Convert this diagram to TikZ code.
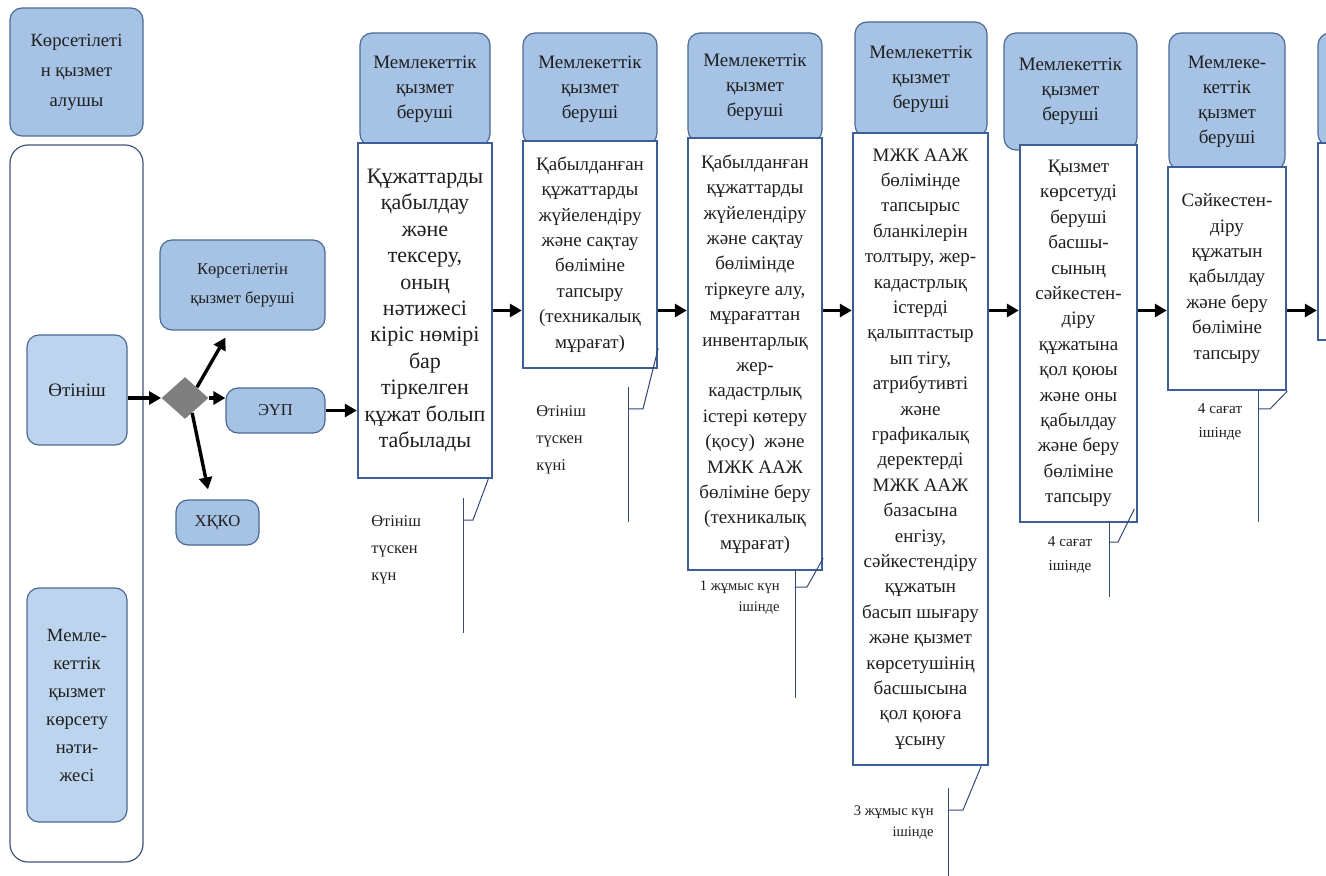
\documentclass[tikz,border=0pt]{standalone}
\usepackage{fontspec}
\setmainfont{Liberation Serif}
\definecolor{headblue}{HTML}{A6C3E5}
\definecolor{paleblue}{HTML}{BCD4EE}
\definecolor{edgeblue}{HTML}{4C6A93}
\definecolor{procblue}{HTML}{3D5E96}
\definecolor{gategray}{HTML}{7F7F7F}
\definecolor{inkgray}{HTML}{1F1F1F}
\usetikzlibrary{arrows.meta,positioning,shapes.geometric,calc}
\tikzset{
    headbox/.style={
        draw=edgeblue,
        fill=headblue,
        rounded corners=6pt,
        line width=0.6pt,
        inner sep=0pt,
        align=center,
        text=inkgray,
        font=\fontsize{9.5}{12.5}\selectfont
    },
    palebox/.style={
        headbox,
        fill=paleblue
    },
    lanebox/.style={
        draw=edgeblue!80!black,
        fill=white,
        rounded corners=9pt,
        line width=0.6pt
    },
    stepbox/.style={
        draw=procblue,
        fill=white,
        line width=1.2pt,
        inner sep=0pt,
        align=center,
        text=inkgray,
        font=\fontsize{9.5}{12.7}\selectfont
    },
    gateshape/.style={
        diamond,
        fill=gategray,
        inner sep=0pt,
        minimum width=23.5pt,
        minimum height=21pt
    },
    flowarrow/.style={
        -{Triangle[length=6pt,width=6.5pt]},
        draw=black,
        line width=1.7pt
    },
    timeline/.style={
        draw=procblue!80!black,
        line width=0.5pt
    },
    timenote/.style={
        inner sep=0pt,
        text=inkgray,
        font=\fontsize{8.2}{13.5}\selectfont
    },
    smallnote/.style={
        inner sep=0pt,
        text=inkgray,
        font=\fontsize{7.3}{10.5}\selectfont
    }
}

\begin{document}
\begin{tikzpicture}[x=0.5pt,y=-0.5pt]
    \useasboundingbox (0,0) rectangle (1326,876);
    \clip (0,0) rectangle (1326,876);

    % receiver lane
    \node[headbox, minimum width=66.5pt, minimum height=64pt,
        font=\fontsize{9.3}{15}\selectfont] (alushy) at (76.5,72)
        {Көрсетілеті\\н қызмет\\алушы};
    \node[lanebox, minimum width=66.5pt, minimum height=358.5pt] (lane) at (76.5,503.5) {};
    \node[palebox, minimum width=50pt, minimum height=55pt] (otinish) at (77,390) {Өтініш};
    \node[palebox, minimum width=50pt, minimum height=117pt,
        font=\fontsize{9.3}{14}\selectfont] (natije) at (77,705)
        {Мемле-\\кеттік\\қызмет\\көрсету\\нәти-\\жесі};

    % choice of channel
    \node[gateshape] (gate) at (185,398) {};
    \node[headbox, minimum width=82.5pt, minimum height=45pt,
        font=\fontsize{8.3}{14.5}\selectfont] (provider) at (242.5,285)
        {Көрсетілетін\\қызмет беруші};
    \node[headbox, minimum width=49.5pt, minimum height=22.5pt,
        font=\fontsize{8.3}{10}\selectfont] (eup) at (275.5,410.5) {ЭҮП};
    \node[headbox, minimum width=41.5pt, minimum height=22.5pt,
        font=\fontsize{8.3}{10}\selectfont] (hkko) at (217.5,522.5) {ХҚКО};

    % provider headers
    \node[headbox, minimum width=65pt, minimum height=56.5pt] (head1) at (425,89.5)
        {Мемлекеттік\\қызмет\\беруші};
    \node[headbox, minimum width=67pt, minimum height=56pt] (head2) at (590,89)
        {Мемлекеттік\\қызмет\\беруші};
    \node[headbox, minimum width=67pt, minimum height=54.5pt] (head3) at (755,87.5)
        {Мемлекеттік\\қызмет\\беруші};
    \node[headbox, minimum width=66pt, minimum height=57.5pt] (head4) at (921,79.5)
        {Мемлекеттік\\қызмет\\беруші};
    \node[headbox, minimum width=66.5pt, minimum height=58.5pt] (head5) at (1070.5,91.5)
        {Мемлекеттік\\қызмет\\беруші};
    \node[headbox, minimum width=58pt, minimum height=68.5pt] (head6) at (1227,101.5)
        {Мемлеке-\\кеттік\\қызмет\\беруші};
    \node[headbox, minimum width=66pt, minimum height=56.5pt] (head7) at (1384,89.5) {};

    % process steps
    \node[stepbox, minimum width=67pt, minimum height=167.5pt,
        font=\fontsize{11}{13.2}\selectfont] (step1) at (425,310.5)
        {Құжаттарды\\қабылдау\\және\\тексеру,\\оның\\нәтижесі\\кіріс нөмірі\\бар\\тіркелген\\құжат болып\\табылады};
    \node[stepbox, minimum width=67pt, minimum height=113.5pt] (step2) at (590,254.5)
        {Қабылданған\\құжаттарды\\жүйелендіру\\және сақтау\\бөліміне\\тапсыру\\(техникалық\\мұрағат)};
    \node[stepbox, minimum width=67pt, minimum height=216pt] (step3) at (755,354)
        {Қабылданған\\құжаттарды\\жүйелендіру\\және сақтау\\бөлімінде\\тіркеуге алу,\\мұрағаттан\\инвентарлық\\жер-\\кадастрлық\\істері көтеру\\(қосу)~ және\\МЖК ААЖ\\бөліміне беру\\(техникалық\\мұрағат)};
    \node[stepbox, minimum width=67.5pt, minimum height=316pt] (step4) at (920.5,449)
        {МЖК ААЖ\\бөлімінде\\тапсырыс\\бланкілерін\\толтыру, жер-\\кадастрлық\\істерді\\қалыптастыр\\ып тігу,\\атрибутивті\\және\\графикалық\\деректерді\\МЖК ААЖ\\базасына\\енгізу,\\сәйкестендіру\\құжатын\\басып шығару\\және қызмет\\көрсетушінің\\басшысына\\қол қоюға\\ұсыну};
    \node[stepbox, minimum width=58.5pt, minimum height=188.5pt] (step5) at (1078.5,333.5)
        {Қызмет\\көрсетуді\\беруші\\басшы-\\сының\\сәйкестен-\\діру\\құжатына\\қол қоюы\\және оны\\қабылдау\\және беру\\бөліміне\\тапсыру};
    \node[stepbox, minimum width=59pt, minimum height=111.5pt] (step6) at (1227,278.5)
        {Сәйкестен-\\діру\\құжатын\\қабылдау\\және беру\\бөліміне\\тапсыру};
    \node[stepbox, minimum width=66pt, minimum height=98.5pt] (step7) at (1384,241.5) {};

    % flow
    \draw[flowarrow] (otinish.east |- gate.west) -- (gate.west);
    \draw[flowarrow] (gate.east) -- (gate.east -| eup.west);
    \draw[flowarrow] (gate.north east) -- ([xshift=-8.5pt,yshift=-3.5pt]provider.south);
    \draw[flowarrow] ($(gate.south)!0.3!(gate.east)$) -- ([xshift=-4.75pt,yshift=5pt]hkko.north);
    \draw[flowarrow] (eup.east) -- (eup.east -| step1.west);
    \draw[flowarrow] (step1.east) -- (step1.east -| step2.west);
    \draw[flowarrow] (step2.east |- step1.east) -- (step1.east -| step3.west);
    \draw[flowarrow] (step3.east |- step1.east) -- (step1.east -| step4.west);
    \draw[flowarrow] (step4.east |- step1.east) -- (step1.east -| step5.west);
    \draw[flowarrow] (step5.east |- step1.east) -- (step1.east -| step6.west);
    \draw[flowarrow] (step6.east |- step1.east) -- (step1.east -| step7.west);

    % time limits
    \coordinate (time1top) at (463,498);
    \coordinate (time1end) at (463,633);
    \coordinate (time1tick) at (473,520);
    \draw[timeline] (time1top) -- (time1end);
    \draw[timeline] (time1top |- time1tick) -- (time1tick) -- ([xshift=-2.5pt]step1.south east);
    \node[timenote, anchor=west, align=left] (note1) at (371,550) {Өтініш\\түскен\\күн};

    \coordinate (time2top) at (628,387);
    \coordinate (time2end) at (628,522);
    \coordinate (time2tick) at (643,409);
    \draw[timeline] (time2top) -- (time2end);
    \draw[timeline] (time2top |- time2tick) -- (time2tick) -- ([yshift=10.5pt]step2.south east);
    \node[timenote, anchor=west, align=left] (note2) at (536,440) {Өтініш\\түскен\\күні};

    \coordinate (time3top) at (795,570);
    \coordinate (time3end) at (795,698);
    \coordinate (time3tick) at (807,587);
    \draw[timeline] (time3top) -- (time3end);
    \draw[timeline] (time3top |- time3tick) -- (time3tick) -- ([yshift=6.5pt]step3.south east);
    \node[smallnote, anchor=east, align=right] (note3) at (780,598) {1 жұмыс күн\\ішінде};

    \coordinate (time4top) at (948,788);
    \coordinate (time4end) at (948,876);
    \coordinate (time4tick) at (963,810);
    \draw[timeline] (time4top) -- (time4end);
    \draw[timeline] (time4top |- time4tick) -- (time4tick) -- ([xshift=-4pt]step4.south east);
    \node[smallnote, anchor=east, align=right] (note4) at (934,823) {3 жұмыс күн\\ішінде};

    \coordinate (time5top) at (1109,522);
    \coordinate (time5end) at (1109,597);
    \coordinate (time5tick) at (1118,542);
    \draw[timeline] (time5top) -- (time5end);
    \draw[timeline] (time5top |- time5tick) -- (time5tick) -- ([xshift=-2pt,yshift=7pt]step5.south east);
    \node[smallnote, align=center, font=\fontsize{7.6}{12}\selectfont] (note5) at (1070,555) {4 сағат\\ішінде};

    \coordinate (time6top) at (1258,390);
    \coordinate (time6end) at (1258,522);
    \coordinate (time6tick) at (1270,409);
    \draw[timeline] (time6top) -- (time6end);
    \draw[timeline] (time6top |- time6tick) -- (time6tick) -- (step6.south east);
    \node[smallnote, align=center, font=\fontsize{7.6}{12}\selectfont] (note6) at (1220,422) {4 сағат\\ішінде};
\end{tikzpicture}
\end{document}
